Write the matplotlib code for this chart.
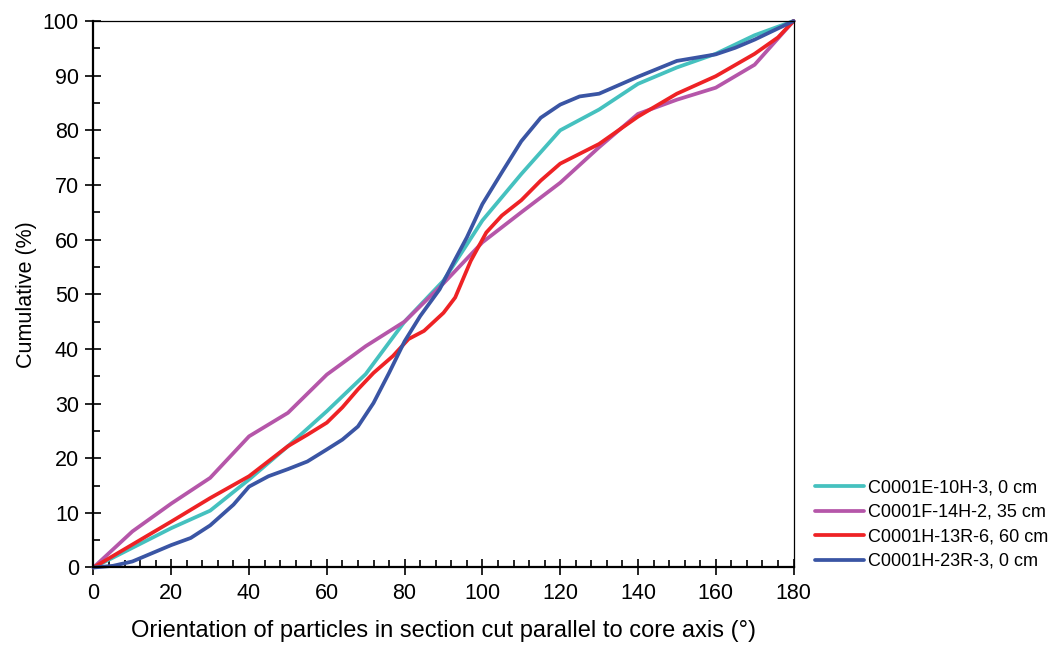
import matplotlib
matplotlib.use("Agg")
import matplotlib.pyplot as plt
from matplotlib.ticker import MultipleLocator


# C0001E-10H-3, 0 cm
cyan_x = [0, 10, 20, 30, 40, 50, 60, 70, 80, 90, 100, 110, 120, 130, 140, 150, 160, 170, 180]
cyan_y = [0, 3.6, 7.2, 10.4, 16.1, 22.2, 28.6, 35.4, 45.0, 52.5, 63.5, 72.0, 80.0, 83.8,
          88.5, 91.5, 94.0, 97.4, 100]

# C0001F-14H-2, 35 cm
purple_x = [0, 10, 20, 30, 40, 50, 60, 70, 80, 90, 100, 110, 120, 130, 140, 150, 160, 170, 180]
purple_y = [0, 6.6, 11.7, 16.4, 24.0, 28.3, 35.3, 40.5, 45.0, 52.0, 59.5, 65.0, 70.4, 76.9,
            83.0, 85.6, 87.8, 92.0, 100]

# C0001H-13R-6, 60 cm
red_x = [0, 10, 20, 30, 40, 50, 55, 60, 64, 68, 72, 77, 81, 85, 90, 93, 97, 101, 105,
         110, 115, 120, 130, 140, 150, 160, 170, 176, 180]
red_y = [0, 4.2, 8.4, 12.7, 16.7, 22.2, 24.3, 26.5, 29.3, 32.6, 35.6, 38.7, 41.8, 43.3,
         46.6, 49.4, 56.1, 61.3, 64.4, 67.2, 70.8, 73.9, 77.5, 82.5, 86.7, 89.9, 94.0,
         97.0, 100]

# C0001H-23R-3, 0 cm
blue_x = [0, 5, 10, 20, 25, 30, 36, 40, 45, 50, 55, 60, 64, 68, 72, 76, 80, 84, 89, 93,
          96, 100, 105, 110, 115, 120, 125, 130, 140, 150, 160, 165, 170, 180]
blue_y = [0, 0.3, 1.1, 4.1, 5.4, 7.7, 11.5, 14.8, 16.7, 18.0, 19.4, 21.6, 23.4, 25.8,
          30.1, 35.6, 41.4, 46.0, 50.9, 56.4, 60.4, 66.5, 72.3, 78.0, 82.3, 84.7, 86.2,
          86.7, 89.8, 92.7, 93.9, 95.1, 96.6, 100]

labels = [
    "C0001E-10H-3, 0 cm",
    "C0001F-14H-2, 35 cm",
    "C0001H-13R-6, 60 cm",
    "C0001H-23R-3, 0 cm",
]
colors = ["#45c1bf", "#b556a9", "#ee2225", "#3a55a4"]


def main():
    plt.rcParams["font.family"] = ["Liberation Sans", "DejaVu Sans"]

    fig = plt.figure(figsize=(10.6, 6.49), dpi=100)
    ax = fig.add_axes([0.0882, 0.1256, 0.6604, 0.842])

    series = [
        (cyan_x, cyan_y),
        (purple_x, purple_y),
        (red_x, red_y),
        (blue_x, blue_y),
    ]
    for (xs, ys), label, color in zip(series, labels, colors):
        ax.plot(xs, ys, color=color, linewidth=2.7, label=label,
                solid_joinstyle="round", solid_capstyle="round", clip_on=False)

    ax.set_xlim(0, 180)
    ax.set_ylim(0, 100)

    ax.xaxis.set_major_locator(MultipleLocator(20))
    ax.xaxis.set_minor_locator(MultipleLocator(4))
    ax.yaxis.set_major_locator(MultipleLocator(10))
    ax.yaxis.set_minor_locator(MultipleLocator(5))

    ax.tick_params(which="major", direction="inout", length=11, width=1.2,
                   labelsize=15.5, pad=5)
    ax.tick_params(which="minor", direction="in", length=5, width=1.2)
    ax.tick_params(axis="x", which="major", pad=6)

    ax.spines["left"].set_linewidth(1.6)
    ax.spines["bottom"].set_linewidth(1.6)
    ax.spines["top"].set_linewidth(0.9)
    ax.spines["right"].set_linewidth(0.9)

    ax.set_xlabel("Orientation of particles in section cut parallel to core axis (°)",
                  fontsize=17, labelpad=11)
    ax.set_ylabel("Cumulative (%)", fontsize=15.5, labelpad=4)

    fig.legend(
        loc="lower left",
        bbox_to_anchor=(815 / 1060, 1 - 570 / 649),
        frameon=False,
        fontsize=13,
        handlelength=2.7,
        handletextpad=0.25,
        labelspacing=0.42,
        borderpad=0,
        borderaxespad=0,
    )

    fig.savefig("out.png", dpi=100)
    plt.close(fig)


if __name__ == "__main__":
    main()
